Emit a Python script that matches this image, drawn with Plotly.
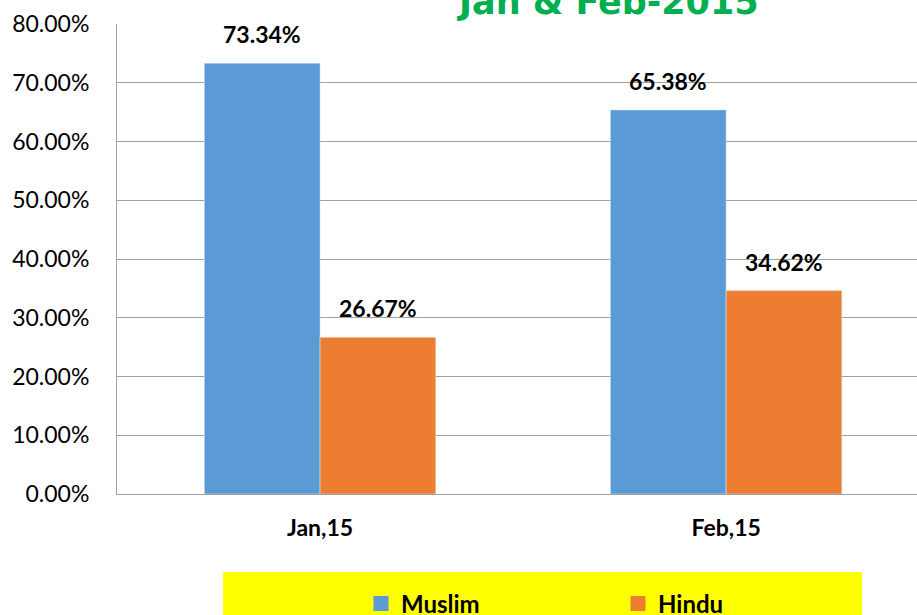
import plotly.graph_objects as go

categories = ["Jan,15", "Feb,15"]
muslim = [0.7334, 0.6538]
hindu = [0.2667, 0.3462]
muslim_labels = ["73.34%", "65.38%"]
hindu_labels = ["26.67%", "34.62%"]
title_text = "Jan & Feb-2015"

MUSLIM_C = "#5B9BD5"
HINDU_C = "#ED7D31"

W, H = 917, 615
L, T, B = 117, 24, 121
pw, ph = W - L, H - T - B

def px_x(x):
    return (x - L) / pw

def px_y(y):
    return (H - B - y) / ph

bold = dict(family="Lato", size=23, color="black", weight="bold")

fig = go.Figure()
fig.add_trace(go.Bar(x=categories, y=muslim, name="Muslim", marker_color=MUSLIM_C,
                     showlegend=False))
fig.add_trace(go.Bar(x=categories, y=hindu, name="Hindu", marker_color=HINDU_C,
                     showlegend=False))
# legend entries with larger square swatches
fig.add_trace(go.Scatter(x=[None], y=[None], mode="markers", name="Muslim",
                         marker=dict(symbol="square", size=15, color=MUSLIM_C)))
fig.add_trace(go.Scatter(x=[None], y=[None], mode="markers", name="Hindu",
                         marker=dict(symbol="square", size=15, color=HINDU_C)))

# data labels above bars
bar_px = 115.5
for vals, labels, shift in ((muslim, muslim_labels, -bar_px / 2), (hindu, hindu_labels, bar_px / 2)):
    for c, v, t in zip(categories, vals, labels):
        fig.add_annotation(x=c, y=v, xref="x", yref="y", text=t, showarrow=False,
                           xanchor="center", yanchor="bottom", xshift=shift, yshift=13,
                           font=bold)

fig.add_shape(type="rect", xref="paper", yref="paper",
              x0=px_x(223), x1=px_x(862), y0=px_y(640), y1=px_y(572),
              fillcolor="#FFFF00", line_width=0, layer="below")

fig.add_annotation(text=title_text, xref="paper", yref="paper",
                   x=px_x(608), y=px_y(2), xanchor="center", yanchor="middle",
                   showarrow=False,
                   font=dict(family="DejaVu Sans", size=35, color="#00B050", weight="bold"))

fig.update_layout(
    width=W, height=H,
    margin=dict(l=L, r=0, t=T, b=B, autoexpand=False),
    plot_bgcolor="white", paper_bgcolor="white",
    barmode="group", bargap=0.43, bargroupgap=0,
    showlegend=True,
    legend=dict(orientation="h", x=px_x(361), y=px_y(604), xanchor="left", yanchor="middle",
                bgcolor="rgba(0,0,0,0)", entrywidth=212, entrywidthmode="pixels",
                font=dict(family="Lato", size=24, color="black", weight="bold")),
    xaxis=dict(range=[-0.5, 1.47], showgrid=False, showline=True, linecolor="#A0A0A0",
               linewidth=1, ticks="", ticklabelstandoff=13, tickfont=bold),
    yaxis=dict(range=[0, 0.8], dtick=0.1, tickformat=".2%", showgrid=True,
               gridcolor="#A0A0A0", gridwidth=1, showline=True, linecolor="#A0A0A0",
               linewidth=1, ticks="", ticklabelstandoff=22, zeroline=False,
               tickfont=dict(family="Lato", size=23, color="black")),
)

fig.write_html("out.html", config={"displayModeBar": False},
               post_script="document.body.style.margin='0';")
